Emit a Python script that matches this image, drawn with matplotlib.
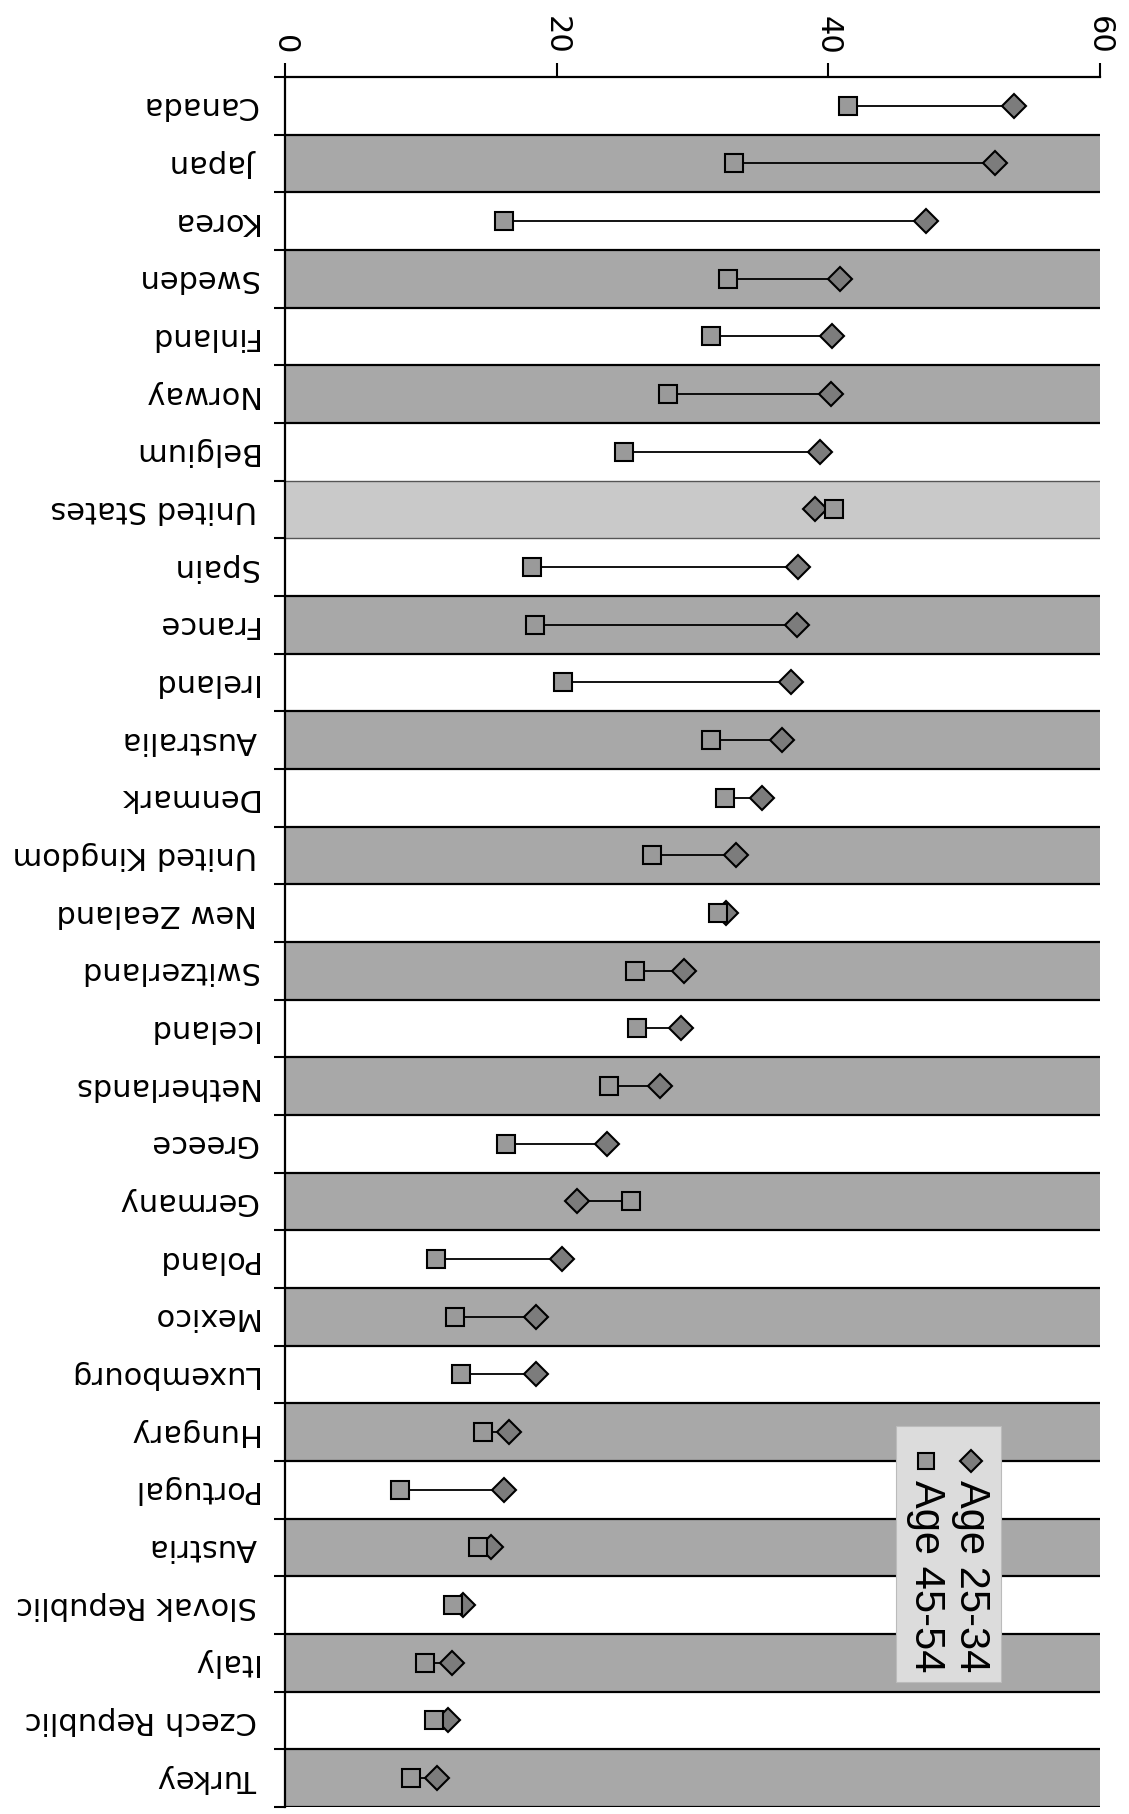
import matplotlib
matplotlib.use("Agg")
import matplotlib.pyplot as plt
from matplotlib.lines import Line2D
from matplotlib.patches import Rectangle

countries = ["Canada", "Japan", "Korea", "Sweden", "Finland", "Norway", "Belgium",
             "United States", "Spain", "France", "Ireland", "Australia", "Denmark",
             "United Kingdom", "New Zealand", "Switzerland", "Iceland", "Netherlands",
             "Greece", "Germany", "Poland", "Mexico", "Luxembourg", "Hungary",
             "Portugal", "Austria", "Slovak Republic", "Italy", "Czech Republic", "Turkey"]
age_25_34 = [53.7, 52.3, 47.2, 40.9, 40.3, 40.2, 39.4, 39.0, 37.8, 37.7, 37.3, 36.6,
             35.1, 33.2, 32.5, 29.4, 29.2, 27.6, 23.7, 21.5, 20.4, 18.5, 18.5, 16.5,
             16.1, 15.2, 13.1, 12.3, 12.0, 11.2]
age_45_54 = [41.5, 33.1, 16.1, 32.6, 31.4, 28.2, 25.0, 40.4, 18.2, 18.4, 20.5, 31.4,
             32.4, 27.0, 31.9, 25.8, 25.9, 23.9, 16.3, 25.5, 11.1, 12.5, 13.0, 14.6,
             8.5, 14.2, 12.4, 10.3, 11.0, 9.3]
x_ticks = [0, 20, 40, 60]
series_names = ["Age 25-34", "Age 45-54"]
highlight = "United States"

fig = plt.figure(figsize=(11.29, 18.14), dpi=100)
ax = fig.add_axes([0.2524, 0.0039, 0.974 - 0.2524, 0.9576 - 0.0039])

n = len(countries)
ys = list(range(n))
band_gray = "#a8a8a8"
band_light = "#c9c9c9"
sq_color = "#9a9a9a"
dia_color = "#7c7c7c"

for i, c in enumerate(countries):
    if c == highlight:
        ax.axhspan(i - 0.5, i + 0.5, color=band_light, lw=0, zorder=0)
        ax.hlines([i - 0.5, i + 0.5], 0, 60, color="#555555", lw=1.0, zorder=1)
    elif i % 2 == 1:
        ax.axhspan(i - 0.5, i + 0.5, color=band_gray, lw=0, zorder=0)
        ax.hlines([i - 0.5, i + 0.5], 0, 60, color="black", lw=1.6, zorder=1)

for i in ys:
    ax.plot([age_45_54[i], age_25_34[i]], [i, i], color="black", lw=1.3, zorder=3)
ax.plot(age_25_34, ys, ls="none", marker="D", ms=12.5, mfc=dia_color, mec="black",
        mew=1.5, zorder=4)
ax.plot(age_45_54, ys, ls="none", marker="s", ms=12.5, mfc=sq_color, mec="black",
        mew=1.5, zorder=5)

ax.set_xlim(0, 60)
ax.set_ylim(n - 0.5, -0.5)

ax.xaxis.tick_top()
ax.set_xticks(x_ticks)
ax.set_xticklabels([str(t) for t in x_ticks], rotation=-90, fontsize=22,
                   family="DejaVu Sans")
ax.tick_params(axis="x", which="major", direction="out", length=10, width=1.5, pad=6)

ax.set_yticks(ys)
ax.set_yticklabels(countries, fontsize=22, family="DejaVu Sans")
for lbl in ax.get_yticklabels():
    lbl.set_rotation(180)
    lbl.set_va("center")
ax.tick_params(axis="y", which="major", length=0, pad=20)
ax.set_yticks([i - 0.5 for i in range(n + 1)], minor=True)
ax.tick_params(axis="y", which="minor", direction="out", length=8, width=1.5)

for s in ["right", "bottom"]:
    ax.spines[s].set_visible(False)
ax.spines["left"].set_linewidth(1.6)
ax.spines["top"].set_linewidth(1.6)

# legend (rotated like the rest of the picture)
fig.add_artist(Rectangle((0.794, 0.0728), 0.093, 0.1411, transform=fig.transFigure,
                         facecolor="#dcdcdc", edgecolor="#bbbbbb", lw=0.8, zorder=6))
leg_x = [0.8600, 0.8200]
leg_marker = ["D", "s"]
leg_color = [dia_color, sq_color]
leg_ms = [11.5, 12.0]
for k in range(2):
    fig.add_artist(Line2D([leg_x[k]], [0.1946], marker=leg_marker[k], ms=leg_ms[k],
                          mfc=leg_color[k], mec="black", mew=1.5, ls="none",
                          transform=fig.transFigure, zorder=7))
    fig.text(leg_x[k], 0.1840, series_names[k], rotation=-90, ha="center", va="top",
             fontsize=30, family="Liberation Sans", zorder=7)

fig.savefig("out.png", dpi=100)
